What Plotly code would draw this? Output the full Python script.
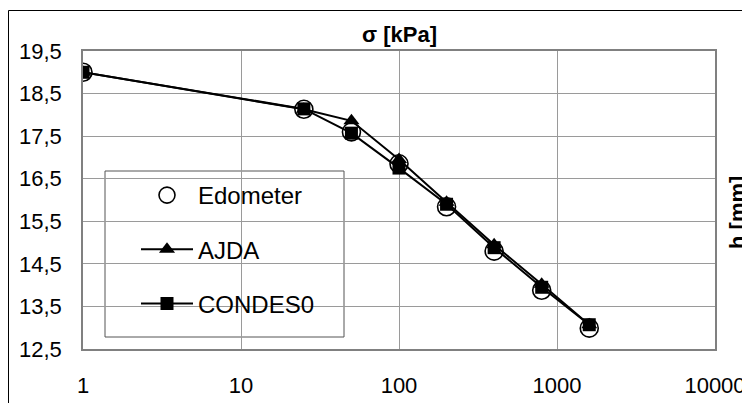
import plotly.graph_objects as go

sigma = [1, 25, 50, 100, 200, 400, 800, 1600]
h_edometer = [19.0, 18.13, 17.60, 16.85, 15.84, 14.80, 13.88, 12.99]
h_ajda = [19.0, 18.13, 17.86, 16.95, 15.95, 14.95, 14.02, 13.07]
h_condes0 = [19.0, 18.14, 17.57, 16.75, 15.90, 14.88, 13.95, 13.07]

x_ticks = [1, 10, 100, 1000, 10000]
x_ticklabels = ["1", "10", "100", "1000", "10000"]
y_ticks = [12.5, 13.5, 14.5, 15.5, 16.5, 17.5, 18.5, 19.5]

FONT = "Liberation Sans, Arial, sans-serif"

# the page body has an 8px margin, so the figure starts at (8, 8) in the window
OFF = 8
W, H = 750 - OFF, 403 - OFF
L, R, T, B = 83 - OFF, 715 - OFF, 51 - OFF, 349 - OFF
PW, PH = R - L, B - T


def px(xw):
    return (xw - OFF - L) / PW


def py(yw):
    return (B - (yw - OFF)) / PH


fig = go.Figure()
fig.add_trace(go.Scatter(
    x=sigma, y=h_edometer, name="Edometer", mode="markers",
    marker=dict(symbol="circle-open", size=18, color="black", line=dict(width=1.6)),
    legendgroup="a",
))
fig.add_trace(go.Scatter(
    x=sigma, y=h_ajda, name="AJDA", mode="lines+markers",
    line=dict(color="black", width=2),
    marker=dict(symbol="triangle-up", size=14, color="black"),
    legendgroup="b",
))
fig.add_trace(go.Scatter(
    x=sigma, y=h_condes0, name="CONDES0", mode="lines+markers",
    line=dict(color="black", width=2),
    marker=dict(symbol="square", size=13, color="black"),
    legendgroup="c",
))

fig.update_layout(
    width=W, height=H,
    margin=dict(l=L, r=W - R, t=T, b=H - B, autoexpand=False),
    paper_bgcolor="white", plot_bgcolor="white",
    separators=",.",
    font=dict(family=FONT, size=22, color="black"),
    showlegend=True,
    legend=dict(
        x=px(136), y=py(173), xanchor="left", yanchor="top",
        bgcolor="rgba(0,0,0,0)", borderwidth=0,
        font=dict(family=FONT, size=24, color="black"),
        tracegroupgap=20, traceorder="grouped",
        itemwidth=52,
    ),
    xaxis=dict(
        type="log", range=[0, 4], tickvals=x_ticks, ticktext=x_ticklabels,
        showgrid=True, gridcolor="#9a9a9a", gridwidth=1,
        showline=True, linecolor="#808080", linewidth=1.5, mirror=True,
        ticks="", ticklabelstandoff=16, zeroline=False, automargin=False,
        tickfont=dict(family=FONT, size=22, color="black"),
    ),
    yaxis=dict(
        range=[12.5, 19.5], tickvals=y_ticks, tickformat=".1f",
        showgrid=True, gridcolor="#9a9a9a", gridwidth=1,
        showline=True, linecolor="#808080", linewidth=1.5, mirror=True,
        ticks="", ticklabelstandoff=15, zeroline=False, automargin=False,
        tickfont=dict(family=FONT, size=22, color="black"),
    ),
    shapes=[
        dict(
            type="rect", xref="paper", yref="paper",
            x0=px(8.5), x1=2, y0=-1, y1=py(10.5),
            line=dict(color="black", width=1), fillcolor="rgba(0,0,0,0)",
            layer="below",
        ),
        dict(
            type="rect", xref="paper", yref="paper",
            x0=px(105), x1=px(344), y0=py(337), y1=py(171),
            line=dict(color="#555555", width=1), fillcolor="white",
            layer="between",
        ),
    ],
    annotations=[
        dict(text="<b>σ [kPa]</b>", xref="paper", yref="paper",
             x=px(399), y=py(34), xanchor="center", yanchor="middle",
             showarrow=False, font=dict(family=FONT, size=22, color="black")),
        dict(text="<b>h [mm]</b>", xref="paper", yref="paper",
             x=px(737), y=py(213), xanchor="center", yanchor="middle", textangle=-90,
             showarrow=False, font=dict(family=FONT, size=22, color="black")),
    ],
)

fig.write_html("out.html")
